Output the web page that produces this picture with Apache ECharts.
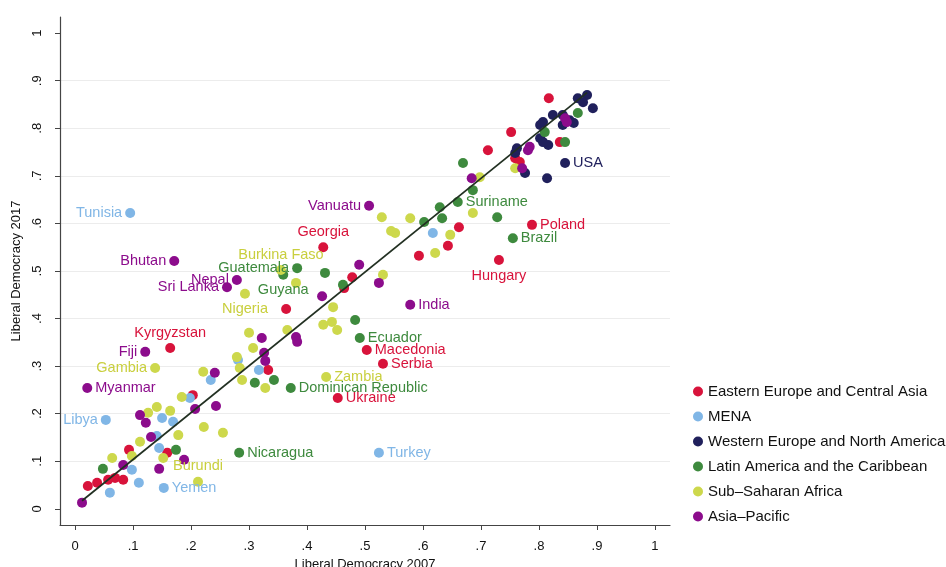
<!DOCTYPE html>
<html><head><meta charset="utf-8">
<script src="https://cdn.jsdelivr.net/npm/echarts@6/dist/echarts.min.js"></script>
<style>html,body{margin:0;padding:0;background:#fff}#c{width:946px;height:567px}</style>
</head><body><div id="c"></div>
<script>
const regions = ['Eastern Europe and Central Asia','MENA','Western Europe and North America','Latin America and the Caribbean','Sub\u2013Saharan Africa','Asia\u2013Pacific'];

const eeca = [
[0.428,0.550,'Georgia'],[0.164,0.338,'Kyrgyzstan'],[0.503,0.334,'Macedonia'],[0.531,0.305,'Serbia'],
[0.453,0.233,'Ukraine'],[0.788,0.597,'Poland'],[0.731,0.523,'Hungary'],
[0.817,0.863,''],[0.836,0.771,''],[0.752,0.792,''],[0.712,0.754,''],[0.759,0.737,''],[0.767,0.729,''],
[0.662,0.592,''],[0.643,0.553,''],[0.593,0.532,''],[0.478,0.487,''],[0.464,0.464,''],[0.364,0.420,''],
[0.333,0.292,''],[0.203,0.239,''],[0.159,0.118,''],[0.093,0.124,''],[0.069,0.065,''],[0.083,0.061,''],
[0.057,0.061,''],[0.038,0.055,''],[0.022,0.048,'']
];
const mena = [
[0.095,0.622,'Tunisia'],[0.053,0.187,'Libya'],[0.153,0.044,'Yemen'],[0.524,0.118,'Turkey'],
[0.617,0.580,''],[0.317,0.292,''],[0.281,0.313,''],[0.234,0.271,''],[0.198,0.233,''],[0.150,0.191,''],
[0.169,0.183,''],[0.141,0.153,''],[0.145,0.128,''],[0.098,0.082,''],[0.110,0.055,''],[0.060,0.034,'']
];
const wena = [
[0.845,0.727,'USA'],[0.883,0.870,''],[0.867,0.863,''],[0.876,0.855,''],[0.893,0.842,''],[0.841,0.828,''],
[0.824,0.828,''],[0.807,0.813,''],[0.802,0.807,''],[0.860,0.811,''],[0.841,0.807,''],[0.853,0.817,''],
[0.802,0.779,''],[0.816,0.765,''],[0.807,0.771,''],[0.762,0.758,''],[0.759,0.748,''],[0.776,0.706,''],
[0.814,0.695,'']
];
const lac = [
[0.383,0.506,'Guatemala'],[0.359,0.492,'Guyana'],[0.283,0.118,'Nicaragua'],[0.372,0.254,'Dominican Republic'],
[0.491,0.359,'Ecuador'],[0.660,0.645,'Suriname'],[0.755,0.569,'Brazil'],
[0.867,0.832,''],[0.810,0.792,''],[0.845,0.771,''],[0.669,0.727,''],[0.686,0.670,''],[0.728,0.613,''],
[0.629,0.634,''],[0.633,0.611,''],[0.602,0.603,''],[0.462,0.471,''],[0.431,0.496,''],[0.483,0.397,''],
[0.343,0.271,''],[0.310,0.265,''],[0.174,0.124,''],[0.048,0.084,'']
];
const ssa = [
[0.355,0.502,'Burkina Faso'],[0.293,0.452,'Nigeria'],[0.138,0.296,'Gambia'],[0.433,0.277,'Zambia'],[0.212,0.057,'Burundi'],
[0.759,0.716,''],[0.698,0.697,''],[0.686,0.622,''],[0.578,0.611,''],[0.529,0.613,''],[0.552,0.580,''],
[0.545,0.584,''],[0.647,0.576,''],[0.621,0.538,''],[0.531,0.492,''],[0.381,0.475,''],[0.445,0.424,''],
[0.428,0.387,''],[0.443,0.393,''],[0.452,0.376,''],[0.366,0.376,''],[0.300,0.370,''],[0.307,0.338,''],
[0.279,0.319,''],[0.284,0.296,''],[0.288,0.271,''],[0.328,0.254,''],[0.221,0.288,''],[0.184,0.235,''],
[0.141,0.214,''],[0.126,0.202,''],[0.164,0.206,''],[0.178,0.155,''],[0.222,0.172,''],[0.255,0.160,''],
[0.112,0.141,''],[0.064,0.107,''],[0.098,0.111,''],[0.152,0.107,'']
];
const asiaPacific = [
[0.507,0.637,'Vanuatu'],[0.171,0.521,'Bhutan'],[0.279,0.481,'Nepal'],[0.262,0.466,'Sri Lanka'],
[0.121,0.330,'Fiji'],[0.021,0.254,'Myanmar'],[0.578,0.429,'India'],
[0.845,0.821,''],[0.848,0.813,''],[0.784,0.761,''],[0.781,0.754,''],[0.771,0.716,''],[0.684,0.695,''],
[0.490,0.513,''],[0.524,0.475,''],[0.426,0.447,''],[0.322,0.359,''],[0.381,0.361,''],[0.383,0.351,''],
[0.326,0.328,''],[0.328,0.311,''],[0.241,0.286,''],[0.207,0.210,''],[0.243,0.216,''],[0.112,0.197,''],
[0.122,0.181,''],[0.131,0.151,''],[0.188,0.103,''],[0.145,0.084,''],[0.083,0.092,''],[0.012,0.013,'']
];
const fitLine = [[0.012,0.017],[0.883,0.875]];
const xTicks = [0,0.1,0.2,0.3,0.4,0.5,0.6,0.7,0.8,0.9,1];
const xTickLabels = ['0','.1','.2','.3','.4','.5','.6','.7','.8','.9','1'];
const yTicks = [0,0.1,0.2,0.3,0.4,0.5,0.6,0.7,0.8,0.9,1];
const yTickLabels = ['0','.1','.2','.3','.4','.5','.6','.7','.8','.9','1'];
const gridValues = [0.1,0.2,0.3,0.4,0.5,0.6,0.7,0.8,0.9];

const colors = ['#d8133b','#80b6e6','#20205c','#3e8a3e','#cdd84c','#8c0c8c'];
const labelColors = ['#d8133b','#80b6e6','#20205c','#3e8a3e','#c9cf3e','#8c0c8c'];
const labelPos = {
  'Tunisia':'left','Libya':'left','Bhutan':'left','Nepal':'left','Sri Lanka':'left','Guatemala':'left',
  'Fiji':'left','Gambia':'left','Vanuatu':'left',
  'Georgia':'top','Kyrgyzstan':'top','Burkina Faso':'top','Burundi':'top',
  'Hungary':'bottom','Nigeria':'bottom','Guyana':'bottom'
};
const FONT = "'Liberation Sans', Arial, sans-serif";
const groups = [eeca, mena, wena, lac, ssa, asiaPacific];

function fmt(ticks, labels){ return v => { for (let i=0;i<ticks.length;i++) if (Math.abs(ticks[i]-v)<1e-6) return labels[i]; return ''; }; }

const series = groups.map((g, i) => ({
  name: regions[i], type: 'scatter', symbolSize: 10, z: 2,
  itemStyle: { color: colors[i], opacity: 1 },
  data: g.map(d => d[2] ? {
      value: [d[0], d[1]], name: d[2],
      label: { show: true, position: labelPos[d[2]] || 'right', distance: 3,
               formatter: d[2], color: labelColors[i], fontSize: 14.5, fontFamily: FONT }
    } : { value: [d[0], d[1]] })
}));
series.push({
  type: 'line', data: fitLine, symbol: 'none', z: 5, silent: true,
  lineStyle: { color: '#223022', width: 1.7 },
  markLine: { silent: true, symbol: 'none', label: { show: false }, z: 0,
    lineStyle: { color: '#ececec', width: 1, type: 'solid' },
    data: gridValues.map(v => ({ yAxis: v })) }
});

const chart = echarts.init(document.getElementById('c'), null, { renderer: 'canvas' });
chart.setOption({
  animation: false,
  backgroundColor: '#fff',
  grid: { left: 60, right: 276, top: 17, bottom: 42, containLabel: false, outerBoundsMode: 'none' },
  legend: {
    orient: 'vertical', left: 688, top: 379, itemWidth: 10, itemHeight: 10, itemGap: 10,
    icon: 'circle', selectedMode: false,
    data: regions,
    textStyle: { color: '#111', fontSize: 15, fontFamily: FONT }
  },
  xAxis: {
    type: 'value', min: -0.026, max: 1.026,
    name: 'Liberal Democracy 2007', nameLocation: 'middle', nameGap: 30,
    nameTextStyle: { color: '#111', fontSize: 13, fontFamily: FONT },
    axisLine: { show: true, onZero: false, lineStyle: { color: '#444', width: 1.2 } },
    axisTick: { show: true, length: 5, customValues: xTicks, lineStyle: { color: '#444' } },
    axisLabel: { customValues: xTicks, formatter: fmt(xTicks, xTickLabels), color: '#111', fontSize: 13, fontFamily: FONT, margin: 15 },
    splitLine: { show: false }
  },
  yAxis: {
    type: 'value', min: -0.034, max: 1.034,
    name: 'Liberal Democracy 2017', nameLocation: 'middle', nameGap: 37,
    nameTextStyle: { color: '#111', fontSize: 13, fontFamily: FONT },
    axisLine: { show: true, onZero: false, lineStyle: { color: '#444', width: 1.2 } },
    axisTick: { show: true, length: 5, customValues: yTicks, lineStyle: { color: '#444' } },
    axisLabel: { customValues: yTicks, formatter: fmt(yTicks, yTickLabels), rotate: 90, color: '#111', fontSize: 13, fontFamily: FONT, margin: 16 },
    splitLine: { show: false }
  },
  series: series
});
</script></body></html>
